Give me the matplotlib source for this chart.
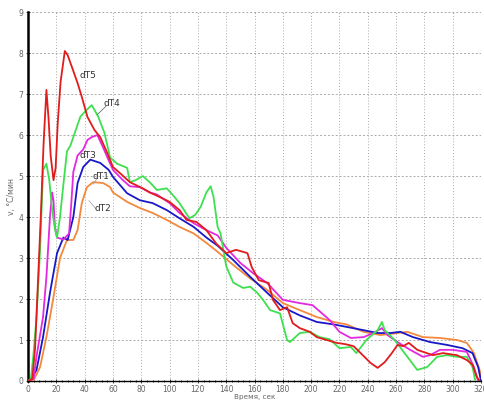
import matplotlib
matplotlib.use("Agg")
import matplotlib.pyplot as plt
from matplotlib.ticker import MultipleLocator

# ---- data ----
x_dt5 = [0, 3, 5, 7, 9, 11, 13, 14.5, 16, 18, 19.5, 21, 23, 26, 28, 31, 35, 38, 42, 47, 51, 56, 60, 65, 72,
         81, 86, 93, 100, 107, 112, 119, 126, 133, 140, 147, 155, 158, 163, 170, 173, 178, 183, 187, 192, 199,
         204, 211, 218, 224, 230, 235, 242, 247, 252, 257, 261, 265, 269, 275, 280, 286, 293, 303, 310, 314, 317, 319]
y_dt5 = [0, 0.05, 0.8, 2.4, 4.0, 5.8, 7.1, 6.4, 5.5, 4.9, 5.2, 6.3, 7.3, 8.05, 7.95, 7.66, 7.27, 6.93, 6.44, 6.12,
         5.95, 5.56, 5.22, 5.07, 4.85, 4.7, 4.6, 4.49, 4.37, 4.17, 3.93, 3.88, 3.68, 3.35, 3.12, 3.2, 3.12, 2.78, 2.46,
         2.39, 1.98, 1.73, 1.8, 1.41, 1.29, 1.2, 1.07, 1.0, 0.93, 0.9, 0.85, 0.68, 0.44, 0.32, 0.46, 0.68, 0.88, 0.85,
         0.93, 0.76, 0.7, 0.63, 0.68, 0.63, 0.51, 0.4, 0.1, 0]

x_dt4 = [0, 2, 3.7, 6, 8.5, 10.6, 13, 15, 17, 19, 20.5, 22.6, 25, 27.5, 30, 32, 37, 41, 45, 49.6, 54, 58, 63, 70,
         72, 76, 81, 86, 91, 98, 102, 107, 114, 118, 122, 126, 129, 131, 134, 136, 140, 145, 152, 157, 162, 166,
         171, 178, 183, 185, 192, 199, 206, 213, 220, 228, 232, 239, 247, 250, 252, 259, 268, 275, 282, 289, 296,
         303, 310, 314, 316]
y_dt4 = [0, 0.05, 0.6, 1.56, 3.2, 5.15, 5.3, 4.9, 4.2, 3.7, 3.5, 4.0, 4.8, 5.6, 5.75, 5.95, 6.45, 6.6, 6.73, 6.45,
         6.05, 5.45, 5.3, 5.2, 4.85, 4.9, 5.0, 4.85, 4.66, 4.7, 4.55, 4.34, 3.97, 4.05, 4.25, 4.6, 4.75, 4.5, 3.75,
         3.6, 2.8, 2.4, 2.27, 2.3, 2.15, 1.98, 1.73, 1.65, 1.0, 0.95, 1.17, 1.2, 1.07, 1.02, 0.8, 0.83, 0.68, 1.0,
         1.24, 1.44, 1.24, 1.0, 0.59, 0.27, 0.34, 0.59, 0.63, 0.59, 0.59, 0.34, 0]

x_dt3 = [0, 4, 6, 10.6, 13, 15.5, 17, 18, 19, 20.5, 25, 29, 30.5, 32, 35, 39, 42, 45, 49, 53, 56, 60, 67, 72, 79,
         86, 91, 100, 107, 117, 126, 134, 140, 150, 159, 169, 180, 192, 201, 213, 220, 228, 237, 244, 250, 254,
         261, 270, 279, 284, 291, 300, 310, 315, 318]
y_dt3 = [0, 0.05, 0.6, 1.56, 2.54, 4.0, 4.6, 4.4, 3.76, 3.5, 3.45, 3.6, 4.3, 5.1, 5.5, 5.65, 5.88, 5.95, 6.0, 5.7,
         5.46, 5.15, 4.9, 4.75, 4.73, 4.6, 4.55, 4.34, 4.1, 3.85, 3.68, 3.55, 3.25, 2.88, 2.63, 2.39, 1.98, 1.9,
         1.85, 1.49, 1.2, 1.05, 1.07, 1.17, 1.29, 1.12, 0.95, 0.76, 0.59, 0.63, 0.76, 0.76, 0.71, 0.34, 0]

x_dt1 = [0, 1.4, 6, 10.6, 15.5, 20.5, 25, 28, 32, 35, 39, 44, 51, 57, 60, 70, 79, 88, 98, 107, 117, 126, 134, 145,
         157, 169, 180, 192, 204, 216, 225, 237, 247, 256, 263, 272, 284, 296, 307, 314, 318, 320]
y_dt1 = [0, 0, 0.27, 1.07, 2.15, 3.12, 3.5, 3.44, 4.0, 4.83, 5.22, 5.4, 5.32, 5.15, 4.98, 4.58, 4.41, 4.34, 4.17,
         3.97, 3.76, 3.5, 3.3, 2.95, 2.54, 2.15, 1.8, 1.6, 1.44, 1.38, 1.32, 1.24, 1.17, 1.17, 1.2, 1.07, 0.95,
         0.88, 0.8, 0.68, 0.34, 0]

x_dt2 = [0, 3.7, 8.5, 13, 18, 22.6, 27.5, 32, 35, 38, 41.6, 46, 53, 58, 60, 70, 79, 88, 98, 107, 117, 126, 134,
         145, 157, 169, 180, 192, 204, 216, 225, 237, 249, 261, 268, 279, 291, 303, 310, 315, 319, 321]
y_dt2 = [0, 0, 0.34, 1.07, 2.05, 3.0, 3.44, 3.44, 3.68, 4.34, 4.73, 4.85, 4.83, 4.73, 4.6, 4.37, 4.22, 4.1, 3.93,
         3.76, 3.6, 3.37, 3.15, 2.83, 2.5, 2.22, 1.9, 1.73, 1.56, 1.44, 1.38, 1.2, 1.12, 1.17, 1.2, 1.07, 1.05,
         1.0, 0.93, 0.68, 0.27, 0]

series_names = ["dT5", "dT4", "dT3", "dT1", "dT2"]
x_ticks = list(range(0, 321, 20))
y_ticks = list(range(0, 10))
x_label = "Время, сек"
y_label = "v, °C/мин"

# ---- figure ----
fig = plt.figure(figsize=(4.84, 4.03), dpi=100)
ax = fig.add_axes([0.0579, 0.0546, 0.9359, 0.9154])

colors = {"dT5": "#e01c1c", "dT4": "#3ee050", "dT3": "#e428e0", "dT1": "#1818c8", "dT2": "#f4883c"}
data = {"dT5": (x_dt5, y_dt5), "dT4": (x_dt4, y_dt4), "dT3": (x_dt3, y_dt3),
        "dT1": (x_dt1, y_dt1), "dT2": (x_dt2, y_dt2)}
order = ["dT2", "dT1", "dT3", "dT4", "dT5"]
for name in order:
    xs, ys = data[name]
    ax.plot(xs, ys, color=colors[name], lw=1.3, zorder=3)

ax.set_xlim(0, 320)
ax.set_ylim(0, 9)
ax.set_xticks(x_ticks)
ax.set_yticks(y_ticks)
ax.xaxis.set_minor_locator(MultipleLocator(4))
ax.tick_params(axis="both", labelsize=5.5, labelcolor="#666666", length=2, width=0.6, color="#222222")
ax.tick_params(axis="x", which="minor", length=2, width=0.6, direction="inout")
ax.tick_params(axis="x", which="major", direction="inout", length=3, pad=1.5)
ax.tick_params(axis="y", direction="inout", length=3, pad=2)

ax.grid(True, axis="y", color="#aaaaaa", ls=(0, (2, 2)), lw=0.7)
ax.grid(True, axis="x", color="#aaaaaa", ls=(0, (1, 2)), lw=0.7)

for s in ["top", "right"]:
    ax.spines[s].set_visible(False)
ax.spines["left"].set_linewidth(1.8)
ax.spines["bottom"].set_linewidth(1.0)

ax.set_xlabel(x_label, fontsize=5.2, color="#666666", labelpad=0)
ax.set_ylabel(y_label, fontsize=5.5, color="#666666", labelpad=2)

# curve labels
lab_pos = {"dT5": (42, 7.45), "dT4": (59, 6.78), "dT3": (42.5, 5.5), "dT1": (51.5, 4.98), "dT2": (53, 4.22)}
for name in series_names:
    tx, ty = lab_pos[name]
    ax.text(tx, ty, name, fontsize=6.5, color="#333333", ha="center", va="center", zorder=5)
ax.plot([49, 55], [6.5, 6.7], color="#555555", lw=0.5, zorder=4)
ax.plot([46, 49], [4.8, 4.95], color="#999999", lw=0.5, zorder=4)
ax.plot([43, 48], [4.4, 4.2], color="#999999", lw=0.5, zorder=4)

fig.savefig("out.png", dpi=100)
